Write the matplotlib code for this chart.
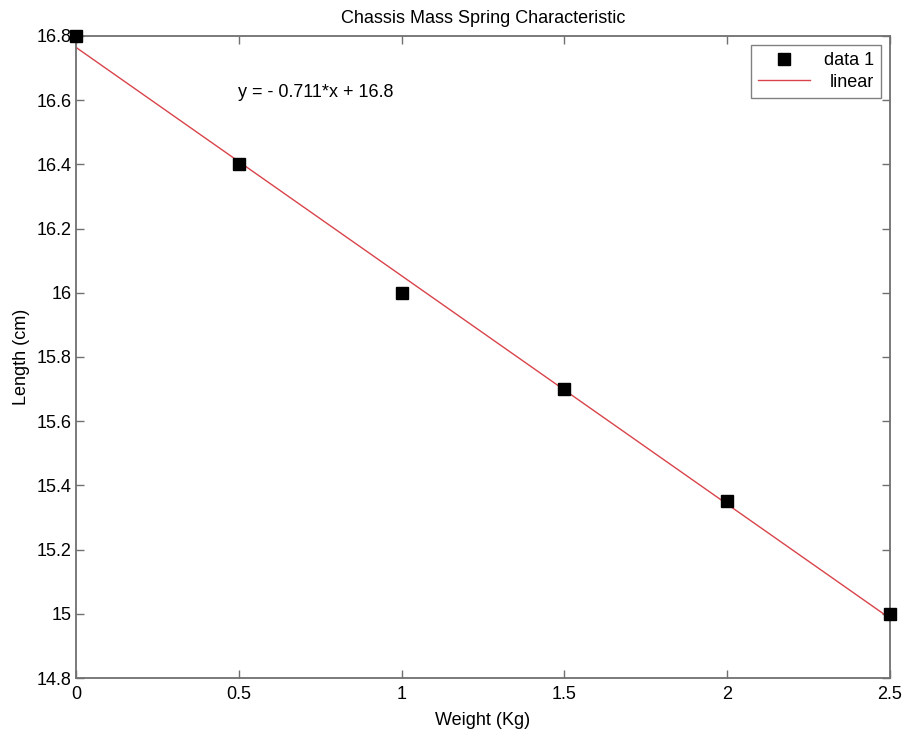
import numpy as np
import matplotlib
matplotlib.use('Agg')
import matplotlib.pyplot as plt

weight = [0, 0.5, 1.0, 1.5, 2.0, 2.5]
length = [16.8, 16.4, 16.0, 15.7, 15.35, 15.0]
x_ticks = [0, 0.5, 1, 1.5, 2, 2.5]
y_ticks = [14.8, 15, 15.2, 15.4, 15.6, 15.8, 16, 16.2, 16.4, 16.6, 16.8]
y_tick_labels = ['14.8', '15', '15.2', '15.4', '15.6', '15.8', '16', '16.2', '16.4', '16.6', '16.8']

plt.rcParams['font.family'] = ['Liberation Sans', 'DejaVu Sans']
fs = 13

# linear fit of the data
coef = np.polyfit(weight, length, 1)
fit_x = np.array([weight[0], weight[-1]])
fit_y = np.polyval(coef, fit_x)

fig = plt.figure(figsize=(9.07, 7.33), dpi=100)
ax = fig.add_axes([0.0838, 0.075, 0.8975, 0.876])

ax.plot(weight, length, 's', color='black', markersize=9, label='data 1', clip_on=False, zorder=3)
ax.plot(fit_x, fit_y, '-', color='#d9434a', linewidth=1.0, label='linear')

ax.set_xlim(0, 2.5)
ax.set_ylim(14.8, 16.8)
ax.set_xticks(x_ticks)
ax.set_xticklabels([str(t) for t in x_ticks])
ax.set_yticks(y_ticks)
ax.set_yticklabels(y_tick_labels)
ax.tick_params(direction='in', length=6, width=1, color='#707070', labelsize=fs, top=True, right=True)
ax.tick_params(axis='x', pad=6)
ax.tick_params(axis='y', pad=3)
for s in ax.spines.values():
    s.set_color('#707070')
    s.set_linewidth(1.3)

ax.set_xlabel('Weight (Kg)', fontsize=fs, labelpad=6)
ax.set_ylabel('Length (cm)', fontsize=fs, labelpad=5)
ax.set_title('Chassis Mass Spring Characteristic', fontsize=fs, pad=9)

ax.text(0.497, 16.625, 'y = - %.3f*x + %.1f' % (-coef[0], coef[1]), fontsize=fs, va='center')

leg = ax.legend(loc='upper right', fontsize=fs, frameon=True, fancybox=False,
                edgecolor='#606060', handlelength=2.9, handletextpad=0.75,
                borderaxespad=0.5, labelspacing=0.25, borderpad=0.4)
leg.get_frame().set_linewidth(1.0)
leg.legend_handles[0].set_markersize(8)

# right-align the legend labels like MATLAB does
fig.canvas.draw()
r = fig.canvas.get_renderer()
widths = [t.get_window_extent(r).width for t in leg.get_texts()]
for t, w in zip(leg.get_texts(), widths):
    t.set_position((max(widths) - w, 0))

fig.savefig('out.png', dpi=100)
